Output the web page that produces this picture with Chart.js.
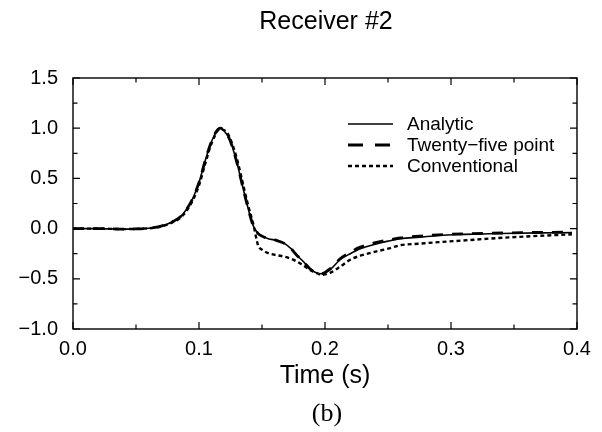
<!DOCTYPE html>
<html>
<head>
<meta charset="utf-8">
<script src="https://cdn.jsdelivr.net/npm/chart.js@4.4.0/dist/chart.umd.min.js"></script>
<style>
  html, body { margin: 0; padding: 0; background: #fff; }
  #wrap { position: relative; width: 602px; height: 432px; }
</style>
</head>
<body>
<div id="wrap"><canvas id="chart" width="602" height="432"></canvas></div>
<script>
// ---- data ----
const timeS = [0, 0.02, 0.04, 0.05, 0.06, 0.065, 0.07, 0.075, 0.08, 0.085, 0.09, 0.095, 0.1, 0.105, 0.11,
  0.1167, 0.122, 0.1246, 0.13, 0.135, 0.139, 0.143, 0.147, 0.15, 0.155, 0.162, 0.168, 0.173, 0.178, 0.183,
  0.188, 0.193, 0.197, 0.204, 0.212, 0.22, 0.228, 0.24, 0.25, 0.26, 0.275, 0.29, 0.31, 0.33, 0.35, 0.37, 0.396];

const analytic = [0, 0, -0.005, -0.003, 0.004, 0.012, 0.025, 0.045, 0.075, 0.115, 0.19, 0.30, 0.46, 0.68, 0.87,
  1.0, 0.94, 0.88, 0.66, 0.40, 0.20, 0.03, -0.05, -0.075, -0.10, -0.12, -0.15, -0.20, -0.27, -0.33,
  -0.40, -0.44, -0.45, -0.41, -0.31, -0.25, -0.20, -0.155, -0.125, -0.10, -0.085, -0.068, -0.058, -0.052, -0.047, -0.043, -0.04];

const twentyFive = [0, 0, -0.005, -0.003, 0.004, 0.012, 0.025, 0.045, 0.075, 0.115, 0.19, 0.30, 0.46, 0.68, 0.87,
  1.0, 0.94, 0.88, 0.66, 0.40, 0.20, 0.03, -0.05, -0.075, -0.10, -0.12, -0.15, -0.20, -0.27, -0.33,
  -0.40, -0.44, -0.45, -0.40, -0.30, -0.235, -0.185, -0.14, -0.115, -0.092, -0.075, -0.062, -0.052, -0.046, -0.042, -0.038, -0.035];

const conventional = [0, 0, -0.005, -0.003, 0.003, 0.01, 0.022, 0.04, 0.068, 0.105, 0.175, 0.28, 0.43, 0.65, 0.85,
  0.99, 0.96, 0.90, 0.70, 0.44, 0.23, 0.05, -0.17, -0.21, -0.245, -0.265, -0.28, -0.30, -0.33, -0.37,
  -0.41, -0.44, -0.46, -0.44, -0.38, -0.31, -0.27, -0.23, -0.20, -0.165, -0.15, -0.135, -0.118, -0.10, -0.085, -0.072, -0.057];

const seriesNames = ['Analytic', 'Twenty\u2212five point', 'Conventional'];
const chartTitle = 'Receiver #2';
const panelLabel = '(b)';

const xMajorTicks = [0, 0.1, 0.2, 0.3, 0.4];
const xMinorTicks = [0.05, 0.15, 0.25, 0.35];
const yMajorTicks = [-1, -0.5, 0, 0.5, 1, 1.5];
const yMinorTicks = [-0.75, -0.25, 0.25, 0.75, 1.25];

const SANS = '"Liberation Sans", Arial, Helvetica, sans-serif';
const SERIF = '"Liberation Serif", "Times New Roman", serif';

function fmt(v) {
  const s = Math.abs(v).toFixed(1);
  return v < -1e-9 ? '\u2212' + s : s;
}

function toPoints(ys) {
  return timeS.map((t, i) => ({ x: t, y: ys[i] }));
}

// frame, inward ticks on all four sides, legend, title and panel label
const framePlugin = {
  id: 'frame',
  afterDatasetsDraw(chart) {
    const { ctx, chartArea: a, scales: { x, y } } = chart;
    const cx = (a.left + a.right) / 2;
    ctx.save();
    ctx.strokeStyle = '#000';
    ctx.lineWidth = 1.4;
    ctx.strokeRect(a.left, a.top, a.right - a.left, a.bottom - a.top);

    ctx.lineWidth = 1.2;
    ctx.beginPath();
    const xt = (v, len) => {
      const px = x.getPixelForValue(v);
      ctx.moveTo(px, a.bottom); ctx.lineTo(px, a.bottom - len);
      ctx.moveTo(px, a.top); ctx.lineTo(px, a.top + len);
    };
    const yt = (v, len) => {
      const py = y.getPixelForValue(v);
      ctx.moveTo(a.left, py); ctx.lineTo(a.left + len, py);
      ctx.moveTo(a.right, py); ctx.lineTo(a.right - len, py);
    };
    xMajorTicks.forEach(v => xt(v, 7));
    xMinorTicks.forEach(v => xt(v, 4.5));
    yMajorTicks.forEach(v => yt(v, 7));
    yMinorTicks.forEach(v => yt(v, 4.5));
    ctx.stroke();

    // legend
    const lx0 = a.left + 275, lx1 = a.left + 320, tx = a.left + 334;
    const rows = [a.top + 46, a.top + 67, a.top + 88];
    ctx.font = '19px ' + SANS;
    ctx.fillStyle = '#000';
    ctx.textBaseline = 'middle';
    ctx.textAlign = 'left';
    chart.data.datasets.forEach((ds, i) => {
      ctx.beginPath();
      ctx.lineWidth = ds.borderWidth;
      ctx.setLineDash(ds.legendDash || ds.borderDash || []);
      ctx.moveTo(lx0, rows[i]);
      ctx.lineTo(lx1, rows[i]);
      ctx.stroke();
      ctx.setLineDash([]);
      ctx.fillText(ds.label, tx, rows[i] + 1);
    });

    // title over the plot, panel label under the axis title
    ctx.textAlign = 'center';
    ctx.font = '25px ' + SANS;
    ctx.fillText(chartTitle, cx + 1, 22);
    ctx.font = '26px ' + SERIF;
    ctx.fillText(panelLabel, cx + 2, 414);
    ctx.restore();
  }
};

const ctx = document.getElementById('chart').getContext('2d');
new Chart(ctx, {
  type: 'line',
  data: {
    datasets: [
      {
        label: seriesNames[0],
        data: toPoints(analytic),
        borderColor: '#000',
        borderWidth: 1.6,
        pointRadius: 0,
        cubicInterpolationMode: 'monotone',
        fill: false
      },
      {
        label: seriesNames[1],
        data: toPoints(twentyFive),
        borderColor: '#000',
        borderWidth: 2.8,
        borderDash: [11, 9],
        legendDash: [15, 12],
        pointRadius: 0,
        cubicInterpolationMode: 'monotone',
        fill: false
      },
      {
        label: seriesNames[2],
        data: toPoints(conventional),
        borderColor: '#000',
        borderWidth: 2.4,
        borderDash: [4, 3],
        pointRadius: 0,
        cubicInterpolationMode: 'monotone',
        fill: false
      }
    ]
  },
  options: {
    responsive: false,
    animation: false,
    layout: { padding: { left: 0, right: 25, top: 78, bottom: 33 } },
    plugins: {
      legend: { display: false },
      tooltip: { enabled: false }
    },
    scales: {
      x: {
        type: 'linear',
        min: 0,
        max: 0.4,
        grid: { display: false, drawTicks: false },
        border: { display: false },
        afterBuildTicks: s => { s.ticks = xMajorTicks.map(v => ({ value: v })); },
        afterFit: s => { s.height = 70; },
        ticks: {
          color: '#000',
          padding: 8,
          maxRotation: 0,
          font: { family: SANS, size: 20 },
          callback: v => fmt(v)
        },
        title: {
          display: true,
          text: 'Time (s)',
          color: '#000',
          font: { family: SANS, size: 25 },
          padding: { top: 0, bottom: 8 }
        }
      },
      y: {
        min: -1,
        max: 1.5,
        grid: { display: false, drawTicks: false },
        border: { display: false },
        afterBuildTicks: s => { s.ticks = yMajorTicks.map(v => ({ value: v })); },
        afterFit: s => { s.width = 73; },
        ticks: {
          color: '#000',
          padding: 15,
          font: { family: SANS, size: 20 },
          callback: v => fmt(v)
        }
      }
    }
  },
  plugins: [framePlugin]
});
</script>
</body>
</html>
